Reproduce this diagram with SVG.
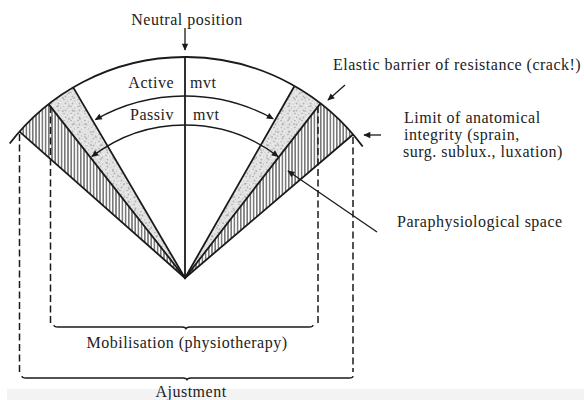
<svg xmlns="http://www.w3.org/2000/svg" width="584" height="400" viewBox="0 0 584 400">
  <style>
    .t { font-family: "Liberation Serif", "Times New Roman", serif; font-size: 16px; fill: #222; letter-spacing: 0.5px; }
    .ln { stroke: #1a1a1a; stroke-width: 1.8; fill: none; }
    .thin { stroke: #1a1a1a; stroke-width: 1.3; fill: none; }
    .dash { stroke: #1a1a1a; stroke-width: 1.5; fill: none; stroke-dasharray: 7 3.5; }
    .hatch { fill: url(#hatch); }
    .stip { fill: url(#stip1); }
    .stip2 { fill: url(#stip2); }
  </style>
  <defs>
    <pattern id="hatch" patternUnits="userSpaceOnUse" width="3.2" height="10">
      <rect width="3.2" height="10" fill="#ffffff"/>
      <line x1="0.8" y1="0" x2="0.8" y2="10" stroke="#2a2a2a" stroke-width="1"/>
    </pattern>
    <pattern id="stip1" patternUnits="userSpaceOnUse" width="7" height="7">
      <rect width="7" height="7" fill="#e4e4e4"/>
      <circle cx="1" cy="1.5" r="0.8" fill="#aaaaaa"/>
      <circle cx="4.5" cy="3" r="0.7" fill="#bcbcbc"/>
      <circle cx="2.5" cy="5.5" r="0.9" fill="#b2b2b2"/>
      <circle cx="6" cy="6" r="0.6" fill="#c4c4c4"/>
    </pattern>
    <pattern id="stip2" patternUnits="userSpaceOnUse" width="11" height="13">
      <circle cx="3" cy="2" r="0.9" fill="#a0a0a0" opacity="0.7"/>
      <circle cx="8" cy="7" r="1" fill="#9c9c9c" opacity="0.6"/>
      <circle cx="5" cy="11" r="0.8" fill="#f4f4f4"/>
      <circle cx="9.5" cy="1.5" r="0.9" fill="#f2f2f2"/>
    </pattern>
    <marker id="ah" viewBox="0 0 10 10" refX="9" refY="5" markerWidth="8" markerHeight="7" markerUnits="userSpaceOnUse" orient="auto-start-reverse">
      <path d="M0,0.5 L10,5 L0,9.5 Z" fill="#1a1a1a"/>
    </marker>
  </defs>

  <rect x="0" y="0" width="584" height="400" fill="#ffffff"/>
  <rect x="7" y="389" width="577" height="11" fill="#f3f3f3"/>

  <g id="sectors">
    <path class="stip" d="M185,278 L73.2,87.4 A221,221 0 0 0 48.6,104.1 Z"/>
    <path class="stip2" d="M185,278 L73.2,87.4 A221,221 0 0 0 48.6,104.1 Z"/>
    <path class="stip" d="M185,278 L294.5,86 A221,221 0 0 1 320.5,103.4 Z"/>
    <path class="stip2" d="M185,278 L294.5,86 A221,221 0 0 1 320.5,103.4 Z"/>
    <path class="hatch" d="M185,278 L48.6,104.1 A221,221 0 0 0 19.5,131.6 Z"/>
    <path class="hatch" d="M185,278 L320.5,103.4 A221,221 0 0 1 353,134.5 Z"/>
  </g>

  <g id="fan">
    <path class="ln" d="M9.7,143.5 A221,221 0 0 1 362.7,146.5"/>
    <line class="ln" x1="185" y1="57" x2="185" y2="278"/>
    <path class="ln" d="M19.5,131.6 L185,278 L353,134.5"/>
    <path class="ln" d="M48.6,104.1 L185,278 L320.5,103.4"/>
    <path class="ln" d="M73.2,87.4 L185,278 L294.5,86"/>
  </g>

  <g id="connectors">
    <path class="thin" d="M95.4,119.6 A182,182 0 0 1 273.2,118.8" marker-start="url(#ah)" marker-end="url(#ah)"/>
    <path class="thin" d="M91.9,156.6 A153,153 0 0 1 278.1,156.6" marker-start="url(#ah)" marker-end="url(#ah)"/>
    <line class="thin" x1="185" y1="28" x2="185" y2="50" marker-end="url(#ah)"/>
    <line class="thin" x1="345" y1="85" x2="328" y2="100" marker-end="url(#ah)"/>
    <line class="thin" x1="381" y1="135" x2="364" y2="135" marker-end="url(#ah)"/>
    <line class="thin" x1="377" y1="232" x2="288" y2="171" marker-end="url(#ah)"/>
    <line class="dash" x1="19.5" y1="134" x2="19.5" y2="372"/>
    <line class="dash" x1="50.5" y1="106" x2="50.5" y2="324"/>
    <line class="dash" x1="318" y1="106" x2="318" y2="323"/>
    <line class="dash" x1="353" y1="137" x2="353" y2="372"/>
    <path class="thin" d="M54,325 Q54,327 58,327 L182,327 Q186,327 186,329.5 Q186,327 190,327 L309,327 Q313,327 313,325"/>
    <path class="thin" d="M22,376 Q22,378 26,378 L183,378 Q187,378 187,380.5 Q187,378 191,378 L349,378 Q353,378 353,376"/>
  </g>

  <g id="labels">
    <text class="t" x="187" y="25" text-anchor="middle">Neutral position</text>
    <text class="t" x="174" y="88" text-anchor="end">Active</text>
    <text class="t" x="190" y="88">mvt</text>
    <text class="t" x="174" y="120" text-anchor="end">Passiv</text>
    <text class="t" x="193" y="120">mvt</text>
    <text class="t" x="333" y="70">Elastic barrier of resistance (crack!)</text>
    <text class="t" x="404" y="123">Limit of anatomical</text>
    <text class="t" x="404" y="140">integrity (sprain,</text>
    <text class="t" x="403" y="157">surg. sublux., luxation)</text>
    <text class="t" x="397" y="227">Paraphysiological space</text>
    <text class="t" x="187" y="348" text-anchor="middle">Mobilisation (physiotherapy)</text>
    <text class="t" x="191" y="397" text-anchor="middle">Ajustment</text>
  </g>
</svg>
